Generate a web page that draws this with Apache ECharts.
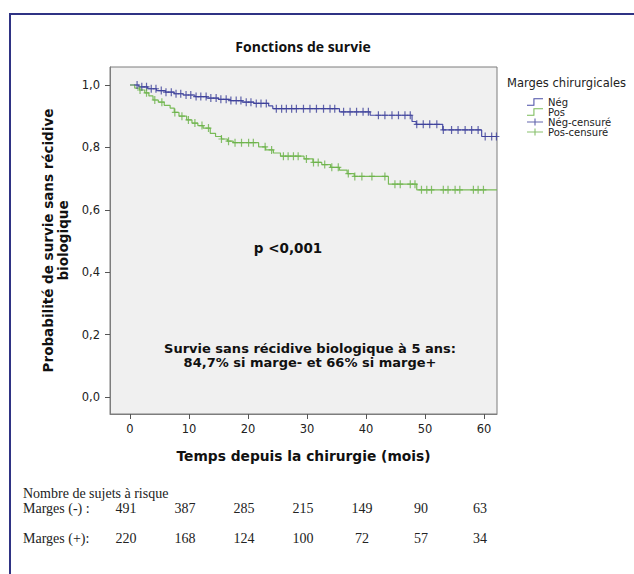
<!DOCTYPE html>
<html><head><meta charset="utf-8">
<script src="https://cdn.jsdelivr.net/npm/echarts@6/dist/echarts.min.js"></script>
<style>html,body{margin:0;padding:0;background:#fff}#c{width:634px;height:574px}</style>
</head><body><div id="c"></div>
<script>
// ---- data ----
const xTicks = [0, 10, 20, 30, 40, 50, 60];
const yTicks = [0, 0.2, 0.4, 0.6, 0.8, 1.0];
const negTimes = [0,1.5,3,4.5,6,7.5,9,11,13,15,17,19,21,23.5,24.2,35.5,40.7,47.8,48.5,53,59.6,62.2];
const negSurv  = [1,0.994,0.988,0.982,0.977,0.972,0.968,0.963,0.958,0.954,0.95,0.945,0.941,0.933,0.924,0.914,0.903,0.883,0.874,0.856,0.835,0.835];
const posTimes = [0,0.8,1.6,2.5,3.2,3.9,4.8,5.8,6.8,7.5,8.3,9.6,10.5,11.5,12.4,13.6,14.5,15.5,16.5,17.5,21.8,23.0,24.3,25.5,29.5,31.0,32.5,34.0,35.5,36.8,38.0,43.8,48.6,62.2];
const posSurv  = [1,0.99,0.984,0.975,0.965,0.952,0.945,0.935,0.926,0.912,0.9,0.888,0.878,0.87,0.862,0.845,0.835,0.827,0.82,0.815,0.802,0.792,0.782,0.772,0.763,0.752,0.745,0.736,0.727,0.716,0.707,0.682,0.664,0.664];
const negCensor = [1.2,2.0,2.8,3.6,4.4,5.3,6.1,7.0,7.8,8.6,9.5,10.3,11.2,12.0,12.9,13.7,14.6,15.4,16.3,17.1,18.0,18.8,19.7,20.5,21.4,22.2,23.1,24.8,25.7,26.5,27.4,28.2,29.4,30.5,31.6,32.8,33.9,34.7,36.2,37.3,38.4,39.5,40.4,42.1,43.2,44.4,45.5,46.6,47.5,48.6,49.7,50.8,52.0,53.1,54.5,55.6,56.8,57.9,59.0,60.2,61.3,62.1];
const posCensor = [1.7,2.8,4.2,5.4,7.6,8.8,9.9,11.0,12.2,13.3,15.5,16.7,17.8,18.9,20.1,20.9,22.9,24.0,26.0,26.8,27.7,28.5,29.9,31.1,31.9,33.0,34.2,35.3,37.0,38.1,39.3,41.0,43.2,44.9,45.8,47.5,48.3,49.4,50.3,51.1,53.1,53.9,55.1,55.9,58.2,59.0,59.9];
const riskNeg = [491, 387, 285, 215, 149, 90, 63];
const riskPos = [220, 168, 124, 100, 72, 57, 34];
const seriesNames = ['Nég', 'Pos', 'Nég-censuré', 'Pos-censuré'];

// ---- helpers ----
function survAt(times, vals, t) {
  let v = vals[0];
  for (let i = 0; i < times.length; i++) { if (times[i] <= t) v = vals[i]; }
  return v;
}
const zip = (a, b) => a.map((v, i) => [v, b[i]]);
const BLUE = '#4a4ea6', BLUE_M = '#3c4098', GREEN = '#79bb57', GREEN_M = '#6cb24a';
const PLUS = 'path://M2.4,0h1.2v8h-1.2z M0,3.4h6v1.2h-6z';
const STEP = 'path://M0,8h8v-8h12v1.3h-10.7v8h-9.3z';
const LEGPLUS = 'path://M9.3,0h1.4v9h-1.4z M0,3.8h20v1.4h-20z';
const SANS = '"Open Sans", "DejaVu Sans", sans-serif';
const WIDE = '"DejaVu Sans", sans-serif';
const SERIF = '"Liberation Serif", "DejaVu Serif", serif';
const fmt = v => v.toFixed(1).replace('.', ',');

const chart = echarts.init(document.getElementById('c'), null, {renderer: 'svg'});

const baseGraphic = [
  {type: 'rect', shape: {x: 10, y: 14, width: 700, height: 700}, style: {fill: 'none', stroke: '#2f3384', lineWidth: 2}, silent: true},
  {type: 'text', x: 288, y: 248, style: {text: 'p <0,001', font: 'bold 13.5px ' + WIDE, fill: '#111', textAlign: 'center', textVerticalAlign: 'middle'}},
  {type: 'text', x: 310, y: 355.5, style: {text: 'Survie sans récidive biologique à 5 ans:\n84,7% si marge- et 66% si marge+', font: 'bold 13px ' + WIDE, lineHeight: 13.5, fill: '#111', textAlign: 'center', textVerticalAlign: 'middle'}},
  {type: 'text', x: 507, y: 83, style: {text: 'Marges chirurgicales', font: '11.5px ' + WIDE, fill: '#222', textAlign: 'left', textVerticalAlign: 'middle'}},
  {type: 'text', x: 23, y: 493, style: {text: 'Nombre de sujets à risque', font: '14px ' + SERIF, fill: '#222', textAlign: 'left', textVerticalAlign: 'middle'}},
  {type: 'text', x: 23, y: 508, style: {text: 'Marges (-) :', font: '14px ' + SERIF, fill: '#222', textAlign: 'left', textVerticalAlign: 'middle'}},
  {type: 'text', x: 23, y: 538, style: {text: 'Marges (+):', font: '14px ' + SERIF, fill: '#222', textAlign: 'left', textVerticalAlign: 'middle'}}
];

const option = {
  animation: false,
  backgroundColor: '#ffffff',
  title: {text: 'Fonctions de survie', left: 303, top: 39, textAlign: 'center', padding: 0,
    textStyle: {fontFamily: SANS, fontSize: 14, fontWeight: 'bold', color: '#111'}},
  grid: {left: 110, top: 67, right: 137, bottom: 160, show: true, backgroundColor: '#f0f0f0', borderColor: '#7d7d7d', borderWidth: 1},
  legend: {
    orient: 'vertical', left: 527, top: 97, itemGap: 0, itemWidth: 16, itemHeight: 8, padding: 0,
    data: [
      {name: seriesNames[0], icon: STEP},
      {name: seriesNames[1], icon: STEP},
      {name: seriesNames[2], icon: LEGPLUS},
      {name: seriesNames[3], icon: LEGPLUS}
    ],
    textStyle: {fontFamily: WIDE, fontSize: 10, color: '#222', lineHeight: 9.5},
    selectedMode: false
  },
  xAxis: {
    type: 'value', min: -3.39, max: 62.2,
    name: 'Temps depuis la chirurgie (mois)', nameLocation: 'middle', nameGap: 35,
    nameTextStyle: {fontFamily: WIDE, fontSize: 13.8, fontWeight: 'bold', color: '#111'},
    axisLine: {show: true, onZero: false, lineStyle: {color: '#7d7d7d', width: 1}},
    axisTick: {show: true, inside: false, length: 5, customValues: xTicks, lineStyle: {color: '#555'}},
    axisLabel: {customValues: xTicks, margin: 9, fontFamily: WIDE, fontSize: 11.5, color: '#222', formatter: v => String(v)},
    splitLine: {show: false}
  },
  yAxis: {
    type: 'value', min: -0.0545, max: 1.0577,
    name: 'Probabilité de survie sans récidive\nbiologique', nameLocation: 'middle', nameGap: 40,
    nameTextStyle: {fontFamily: WIDE, fontSize: 13.5, fontWeight: 'bold', color: '#111', lineHeight: 15},
    axisLine: {show: true, onZero: false, lineStyle: {color: '#7d7d7d', width: 1}},
    axisTick: {show: true, inside: false, length: 5, customValues: yTicks, lineStyle: {color: '#555'}},
    axisLabel: {customValues: yTicks, margin: 10, fontFamily: WIDE, fontSize: 11.5, color: '#222', formatter: fmt},
    splitLine: {show: false}
  },
  series: [
    {name: seriesNames[0], type: 'line', step: 'end', showSymbol: false, color: BLUE,
     lineStyle: {color: BLUE, width: 1.2}, data: zip(negTimes, negSurv), z: 3},
    {name: seriesNames[1], type: 'line', step: 'end', showSymbol: false, color: GREEN,
     lineStyle: {color: GREEN, width: 1.2}, data: zip(posTimes, posSurv), z: 3},
    {name: seriesNames[2], type: 'scatter', symbol: PLUS, symbolSize: [6, 8], symbolKeepAspect: false, color: BLUE_M,
     itemStyle: {color: BLUE_M}, data: negCensor.map(t => [t, survAt(negTimes, negSurv, t)]), z: 4},
    {name: seriesNames[3], type: 'scatter', symbol: PLUS, symbolSize: [6, 8], symbolKeepAspect: false, color: GREEN_M,
     itemStyle: {color: GREEN_M}, data: posCensor.map(t => [t, survAt(posTimes, posSurv, t)]), z: 4}
  ],
  graphic: baseGraphic
};
chart.setOption(option);

// risk table aligned to the x-axis ticks
const tableGraphic = [];
xTicks.forEach((t, i) => {
  const px = chart.convertToPixel({xAxisIndex: 0}, t) - 4;
  tableGraphic.push({type: 'text', x: px, y: 508, style: {text: String(riskNeg[i]), font: '14px ' + SERIF, fill: '#222', textAlign: 'center', textVerticalAlign: 'middle'}});
  tableGraphic.push({type: 'text', x: px, y: 538, style: {text: String(riskPos[i]), font: '14px ' + SERIF, fill: '#222', textAlign: 'center', textVerticalAlign: 'middle'}});
});
chart.setOption({graphic: baseGraphic.concat(tableGraphic)});
</script>
</body></html>
